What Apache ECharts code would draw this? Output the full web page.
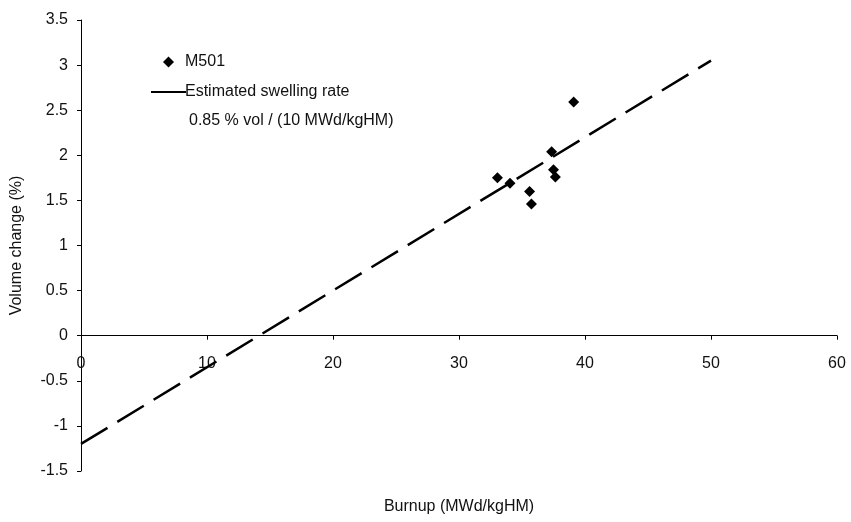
<!DOCTYPE html>
<html>
<head>
<meta charset="utf-8">
<script src="https://cdn.jsdelivr.net/npm/echarts@6/dist/echarts.min.js"></script>
<style>html,body{margin:0;padding:0;background:#fff;}#c{width:851px;height:522px;}</style>
</head>
<body>
<div id="c"></div>
<script>
const burnup = [39.1, 37.35, 37.5, 37.65, 33.05, 34.05, 35.6, 35.75];
const volumeChange = [2.59, 2.04, 1.84, 1.76, 1.75, 1.69, 1.60, 1.46];
const fitX = [0, 50];
const fitY = [-1.2, 3.05];
const seriesNames = ['M501', 'Estimated swelling rate'];
const noteText = '0.85 % vol / (10 MWd/kgHM)';
const xTitle = 'Burnup (MWd/kgHM)';
const yTitle = 'Volume change (%)';
const yMin = -1.5, yMax = 3.5;

const font = 'Liberation Sans, Arial, sans-serif';
const gridTop = 20, gridBottom = 51, H = 522;
const gridH = H - gridTop - gridBottom;
const zeroOffset = -((0 - yMin) / (yMax - yMin)) * gridH;

const chart = echarts.init(document.getElementById('c'));
chart.setOption({
  animation: false,
  backgroundColor: '#fff',
  grid: {left: 81, right: 14, top: gridTop, bottom: gridBottom, containLabel: false, outerBoundsMode: 'none'},
  legend: {
    orient: 'vertical', left: 146, top: 49, itemGap: 14, itemWidth: 35, itemHeight: 11,
    textStyle: {fontFamily: font, fontSize: 16, color: '#111', padding: [0, 0, 0, -6]},
    data: [
      {name: seriesNames[0], icon: 'path://M5,0L10,5L5,10L0,5Z', itemStyle: {color: '#000', opacity: 1}},
      {name: seriesNames[1], icon: 'path://M0,5L35,5L35,7L0,7Z', itemStyle: {color: '#000'}}
    ]
  },
  graphic: [{
    type: 'text', left: 189, top: 113,
    style: {text: noteText, font: '16px ' + font, fill: '#111'}
  }],
  xAxis: {
    type: 'value', min: 0, max: 60, interval: 10,
    offset: zeroOffset,
    name: xTitle, nameLocation: 'middle', nameGap: 163,
    nameTextStyle: {fontFamily: font, fontSize: 16, color: '#111'},
    axisLine: {show: true, onZero: false, lineStyle: {color: '#000', width: 1}},
    axisTick: {show: true, length: 4, lineStyle: {color: '#000'}},
    axisLabel: {margin: 20, fontFamily: font, fontSize: 16, color: '#111'},
    splitLine: {show: false}
  },
  yAxis: {
    type: 'value', min: yMin, max: yMax, interval: 0.5,
    name: yTitle, nameLocation: 'middle', nameGap: 56, nameRotate: 90,
    nameTextStyle: {fontFamily: font, fontSize: 16, color: '#111'},
    axisLine: {show: true, onZero: false, lineStyle: {color: '#000', width: 1}},
    axisTick: {show: true, length: 4, lineStyle: {color: '#000'}},
    axisLabel: {margin: 13, fontFamily: font, fontSize: 16, color: '#111'},
    splitLine: {show: false}
  },
  series: [
    {
      name: seriesNames[0], type: 'scatter', symbol: 'diamond', symbolSize: 11,
      itemStyle: {color: '#000', opacity: 1},
      data: burnup.map((x, i) => [x, volumeChange[i]])
    },
    {
      name: seriesNames[1], type: 'line', symbol: 'none',
      lineStyle: {color: '#000', width: 2.5, type: [31, 11.5]},
      data: fitX.map((x, i) => [x, fitY[i]])
    }
  ]
});
</script>
</body>
</html>
